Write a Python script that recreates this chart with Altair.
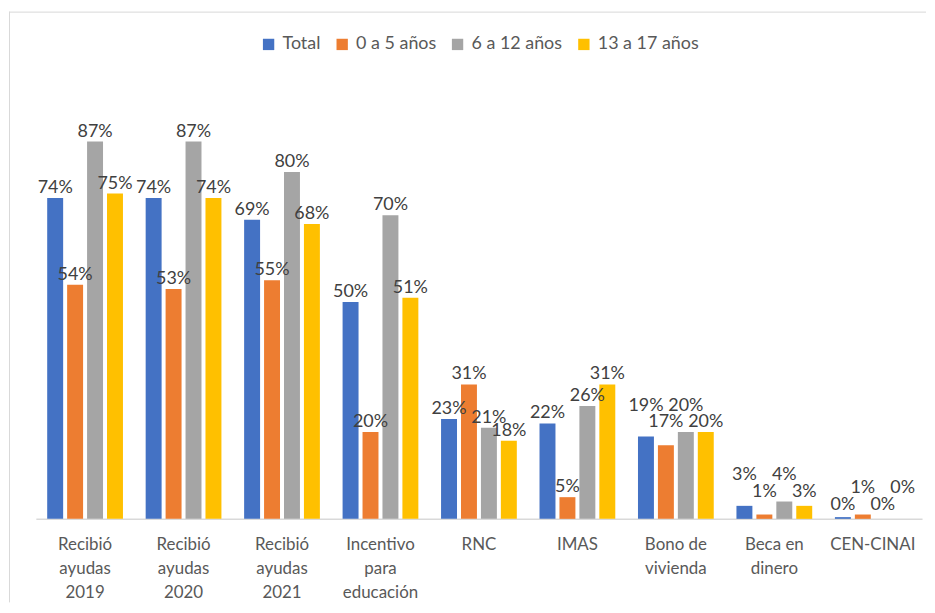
import altair as alt
import pandas as pd

categories = ["Recibió|ayudas|2019", "Recibió|ayudas|2020", "Recibió|ayudas|2021",
              "Incentivo|para|educación", "RNC", "IMAS", "Bono de|vivienda",
              "Beca en|dinero", "CEN-CINAI"]
series = ["Total", "0 a 5 años", "6 a 12 años", "13 a 17 años"]
total = [74, 74, 69, 50, 23, 22, 19, 3, 0.4]
age_0_5 = [54, 53, 55, 20, 31, 5, 17, 1, 1]
age_6_12 = [87, 87, 80, 70, 21, 26, 20, 4, 0]
age_13_17 = [75, 74, 68, 51, 18, 31, 20, 3, 0]
colors = ["#4472C4", "#ED7D31", "#A5A5A5", "#FFC000"]

all_vals = [total, age_0_5, age_6_12, age_13_17]
rows = []
for ci, c in enumerate(categories):
    group = [vals[ci] for vals in all_vals]
    # stagger labels in two rows when neighbouring labels would collide (as Excel does)
    crowded = any(abs(group[i] - group[i + 1]) < 3 for i in range(3))
    hi_parity = group.index(max(group)) % 2
    for si, s in enumerate(series):
        v = group[si]
        if crowded:
            ly = max(group) + (3.7 if si % 2 == hi_parity else 0)
        else:
            ly = v
        rows.append({"cat": c, "serie": s, "v": v, "ly": ly})
df = pd.DataFrame(rows)

FONT = "Lato"
W, H = 891, 436

x = alt.X("cat:N", sort=categories,
          scale=alt.Scale(paddingInner=0.19, paddingOuter=0.095),
          axis=alt.Axis(title=None, labelAngle=0, ticks=False, domainColor="#d9d9d9",
                        domainWidth=1.5, labelColor="#595959", labelFont=FONT,
                        labelFontSize=17, labelLineHeight=24, labelPadding=18,
                        labelExpr="split(datum.label, '|')"))
xo = alt.XOffset("serie:N", sort=series,
                 scale=alt.Scale(paddingInner=0.2, paddingOuter=0.1))
yscale = alt.Scale(domain=[0, 100], nice=False)

bars = alt.Chart(df).mark_bar().encode(
    x=x, xOffset=xo, y=alt.Y("v:Q", scale=yscale, axis=None),
    color=alt.Color("serie:N", sort=series,
                    scale=alt.Scale(domain=series, range=colors),
                    legend=alt.Legend(title=None, orient="none", direction="horizontal",
                                      columns=4, legendX=225, legendY=-50,
                                      symbolType="square", symbolSize=130,
                                      symbolStrokeWidth=0, labelFont=FONT,
                                      labelFontSize=18, labelColor="#595959",
                                      columnPadding=12, labelOffset=5)),
)

labels = alt.Chart(df).transform_calculate(
    lbl="format(datum.v, '.0f') + '%'"
).mark_text(baseline="bottom", dy=-1, font=FONT, fontSize=18, color="#404040").encode(
    x=x, xOffset=xo, y=alt.Y("ly:Q", scale=yscale, axis=None), text="lbl:N"
)

frame_src = pd.DataFrame({"k": [0]})
frame_top = alt.Chart(frame_src).mark_rule(color="#d9d9d9", strokeWidth=1).encode(
    x=alt.value(-27), x2=alt.value(W + 4), y=alt.value(-73.5))
frame_left = alt.Chart(frame_src).mark_rule(color="#d9d9d9", strokeWidth=1).encode(
    x=alt.value(-26.5), y=alt.value(-74), y2=alt.value(H + 84))

chart = (frame_top + frame_left + bars + labels).properties(
    width=W, height=H,
    padding={"left": 0, "top": 1, "right": 0, "bottom": 3},
).configure_view(stroke=None)

chart.save("out.html", embed_options={"renderer": "svg", "actions": False})
